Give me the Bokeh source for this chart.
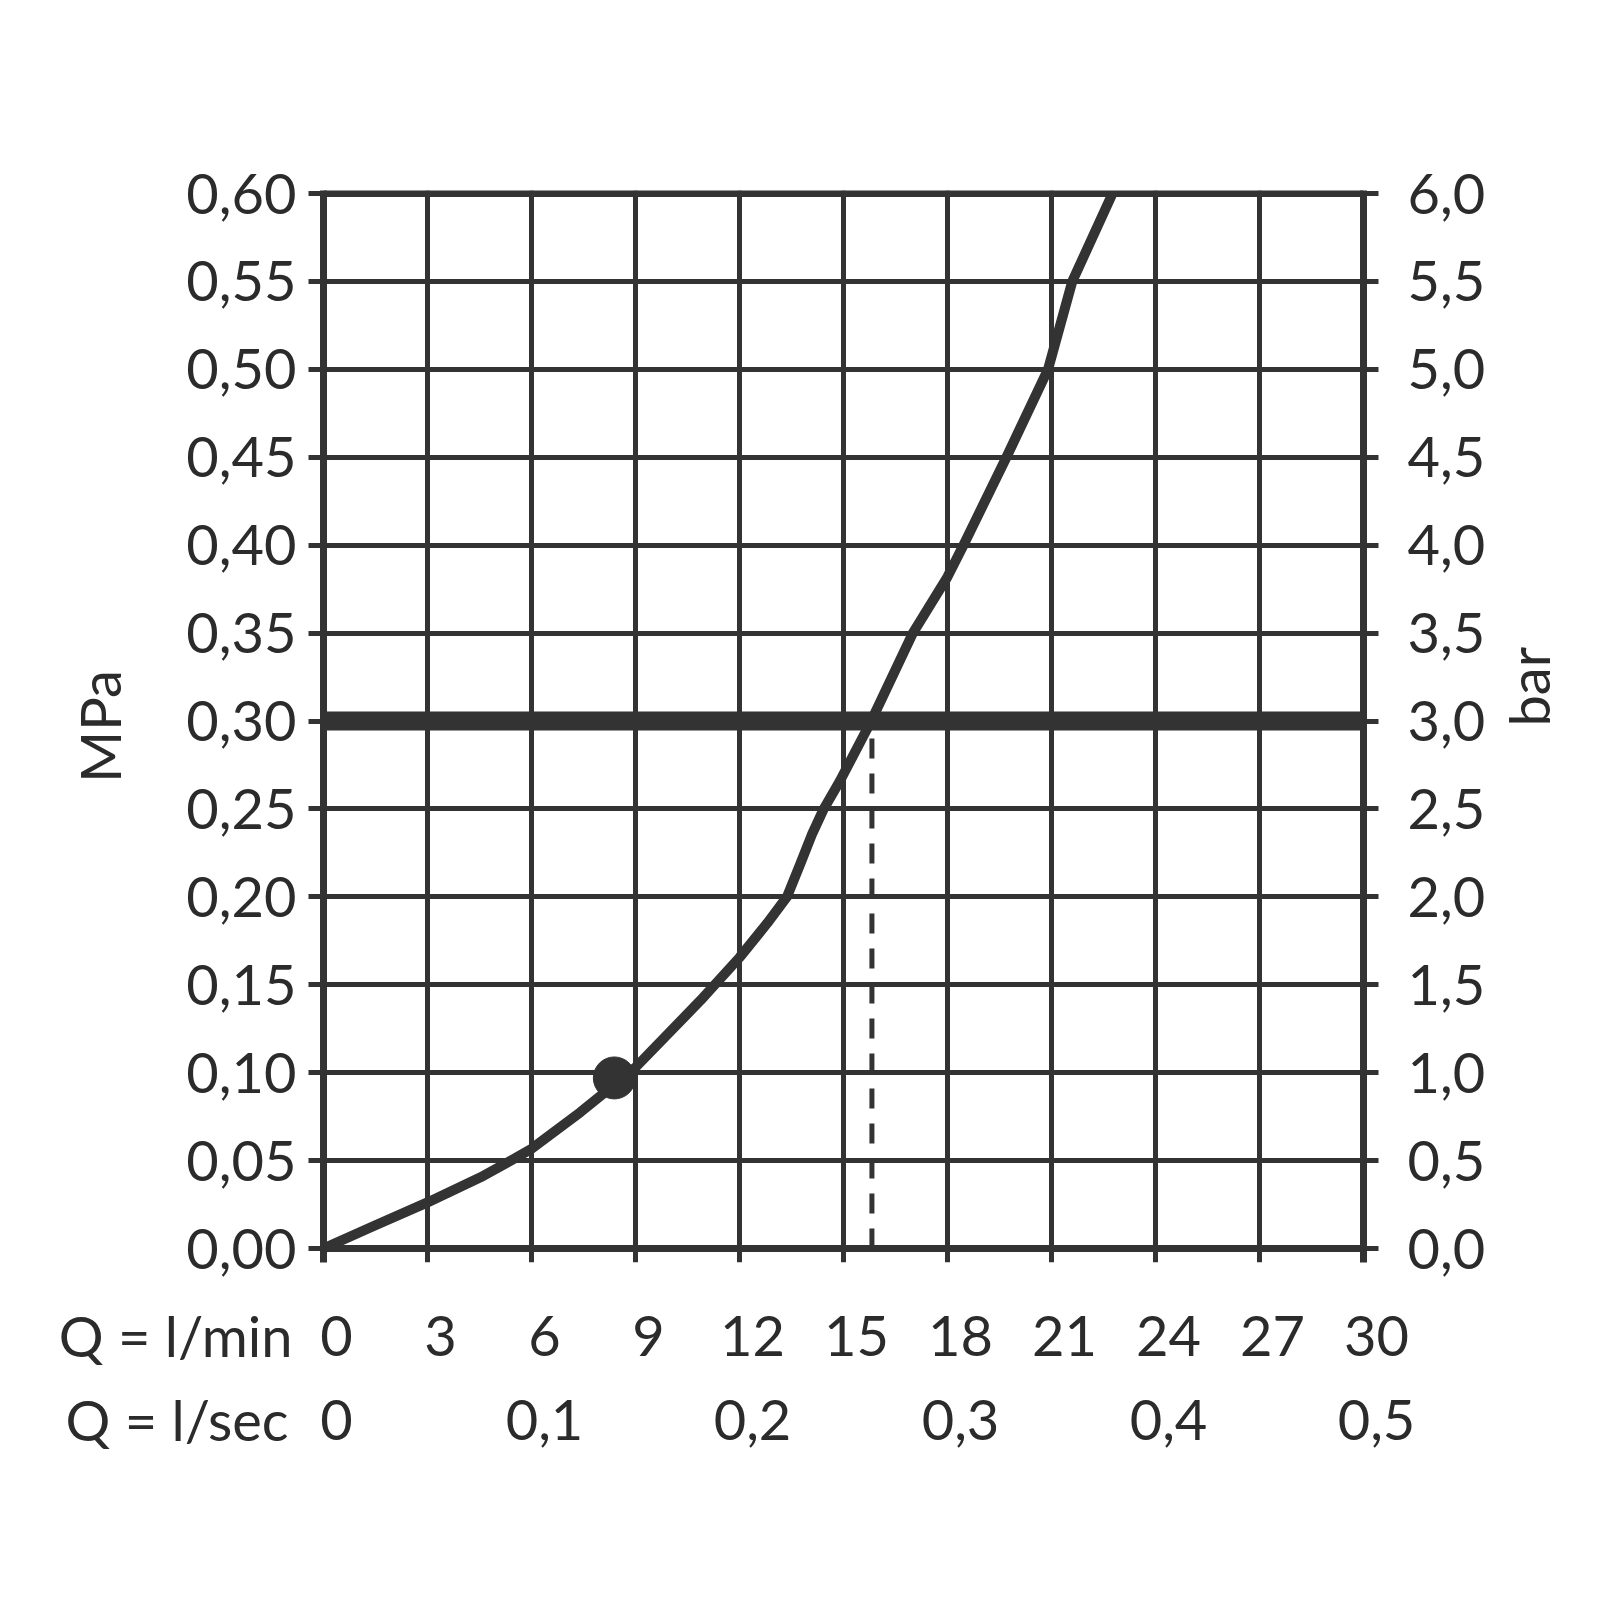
import math
from bokeh.plotting import figure
from bokeh.models import Range1d, LinearAxis, FixedTicker, Span
from bokeh.layouts import column
from bokeh.core.properties import value
from bokeh.embed import file_html
from bokeh.resources import INLINE

# ---- data -------------------------------------------------------------
flow_lmin = [0, 1.45, 3, 4.53, 5.3, 6, 7.41, 8.0, 9, 10.87, 12, 12.8,
             13.37, 13.76, 14.1, 14.43, 14.9, 15.8, 17.0, 18.0, 18.46,
             19.7, 20.9, 21.6, 22.76]
pressure_mpa = [0, 0.0128, 0.0262, 0.0405, 0.0488, 0.0567, 0.0775, 0.087,
                0.103, 0.141, 0.1655, 0.185, 0.20, 0.219, 0.236, 0.25,
                0.266, 0.30, 0.35, 0.382, 0.40, 0.45, 0.50, 0.55, 0.60]

dot_flow = [8.39]
dot_pressure = [0.097]

ref_pressure = 0.30      # thick horizontal line (MPa)
op_flow = 15.82          # dashed vertical line (l/min)

mpa_ticks = [0.0, 0.05, 0.1, 0.15, 0.2, 0.25, 0.3, 0.35, 0.4, 0.45, 0.5, 0.55, 0.6]
mpa_labels = ["0,00", "0,05", "0,10", "0,15", "0,20", "0,25", "0,30",
              "0,35", "0,40", "0,45", "0,50", "0,55", "0,60"]
bar_ticks = [0.0, 0.5, 1.0, 1.5, 2.0, 2.5, 3.0, 3.5, 4.0, 4.5, 5.0, 5.5, 6.0]
bar_labels = ["0,0", "0,5", "1,0", "1,5", "2,0", "2,5", "3,0",
              "3,5", "4,0", "4,5", "5,0", "5,5", "6,0"]
lmin_ticks = [0, 3, 6, 9, 12, 15, 18, 21, 24, 27, 30]
lmin_labels = ["0", "3", "6", "9", "12", "15", "18", "21", "24", "27", "30"]
lsec_values = [0.0, 0.1, 0.2, 0.3, 0.4, 0.5]
lsec_labels = ["0", "0,1", "0,2", "0,3", "0,4", "0,5"]
row_titles = ["Q = l/min", "Q = l/sec"]

INK = "#333333"
TXT = "#2b2b2b"
FONT = "Lato"
FS = "56px"

# ---- layout constants (pixels on the page) ---------------------------
W = 1600
X0, X30 = 323, 1363          # pixel of 0 and 30 l/min
Y0, Y6 = 1248, 193           # pixel of 0.00 and 0.60 MPa
TOP = 190                    # frame top (a bit above the 0.60 line)
HANG = 14                    # tick marks hanging below the 0 line
MAIN_H = 1292
BOT_H = 1600 - MAIN_H

ys = (Y0 - Y6) / 0.6
y_lo = -HANG / ys
y_hi = 0.6 + (Y6 - TOP) / ys

# ---- main figure ------------------------------------------------------
p = figure(width=W, height=MAIN_H,
           x_range=Range1d(0, 30), y_range=Range1d(y_lo, y_hi),
           x_axis_location=None,
           output_backend="svg", toolbar_location=None,
           min_border_left=X0, min_border_right=W - X30,
           min_border_top=TOP, min_border_bottom=MAIN_H - (Y0 + HANG))
p.background_fill_color = "white"
p.border_fill_color = "white"
p.outline_line_color = None
p.extra_y_ranges = {"bar": Range1d(y_lo * 10, y_hi * 10)}

p.xgrid.ticker = FixedTicker(ticks=lmin_ticks)
p.ygrid.ticker = FixedTicker(ticks=mpa_ticks)
for g in (p.xgrid, p.ygrid):
    g.grid_line_color = INK
    g.grid_line_width = 5
    g.grid_line_alpha = 1.0


def style_axis(ax):
    ax.axis_line_color = INK
    ax.axis_line_width = 7
    ax.major_tick_line_color = INK
    ax.major_tick_line_width = 5
    ax.major_tick_in = 0
    ax.major_tick_out = 15
    ax.minor_tick_line_color = None
    ax.major_label_text_font = FONT
    ax.major_label_text_font_size = FS
    ax.major_label_text_color = TXT
    ax.axis_label_text_font = FONT
    ax.axis_label_text_font_size = FS
    ax.axis_label_text_font_style = "normal"
    ax.axis_label_text_color = TXT


ly = p.yaxis[0]
style_axis(ly)
ly.ticker = FixedTicker(ticks=mpa_ticks)
ly.major_label_overrides = dict(zip(mpa_ticks, mpa_labels))
ly.major_label_standoff = 12
ly.axis_label = "MPa"
ly.axis_label_standoff = 50

ry = LinearAxis(y_range_name="bar")
style_axis(ry)
ry.ticker = FixedTicker(ticks=bar_ticks)
ry.major_label_overrides = dict(zip(bar_ticks, bar_labels))
ry.major_label_standoff = 29
ry.axis_label = "bar"
ry.axis_label_standoff = 40
if "axis_label_orientation" in ry.properties():
    ry.axis_label_orientation = math.pi / 2
p.add_layout(ry, "right")

# frame border lines at 0.00 and 0.60
for loc in (mpa_ticks[0], mpa_ticks[-1]):
    p.add_layout(Span(location=loc, dimension="width",
                      line_color=INK, line_width=7))

p.add_layout(Span(location=ref_pressure, dimension="width",
                  line_color=INK, line_width=19))
p.segment(x0=[op_flow], y0=[0], x1=[op_flow], y1=[ref_pressure],
          line_color=INK, line_width=5, line_dash="20 15")
p.line(flow_lmin, pressure_mpa, line_color=INK, line_width=10,
       line_join="round")
p.scatter(dot_flow, dot_pressure, size=42, color=INK)

# ---- bottom strip: flow scales ---------------------------------------
xs = (X30 - X0) / 30.0
pb = figure(width=W, height=BOT_H,
            x_range=Range1d(-X0 / xs, 30 + (W - X30) / xs),
            y_range=Range1d(BOT_H, 0),
            x_axis_location=None, y_axis_location=None,
            output_backend="svg", toolbar_location=None,
            min_border=0, min_border_left=0, min_border_right=0,
            min_border_top=0, min_border_bottom=0)
pb.outline_line_color = None
pb.background_fill_color = "white"
pb.border_fill_color = "white"
pb.xgrid.visible = False
pb.ygrid.visible = False

for fig in (p, pb):
    if "frame_align" in fig.properties():
        fig.frame_align = False

row1 = 1335 - MAIN_H   # text baselines inside the strip
row2 = 1419 - MAIN_H
txt = dict(text_font=value(FONT), text_font_size=FS, text_color=TXT,
           text_baseline="alphabetic")
pb.text(x=lmin_ticks, y=[row1] * len(lmin_ticks), text=lmin_labels,
        x_offset=13, text_align="center", **txt)
lsec_pos = [v * 60 for v in lsec_values]
pb.text(x=lsec_pos, y=[row2] * len(lsec_pos), text=lsec_labels,
        x_offset=13, text_align="center", **txt)
pb.text(x=[0], y=[row1], text=[row_titles[0]], x_offset=-31,
        text_align="right", **txt)
pb.text(x=[0], y=[row2], text=[row_titles[1]], x_offset=-35,
        text_align="right", **txt)

layout = column(p, pb, spacing=0)
open("out.html", "w").write(file_html(layout, INLINE))
